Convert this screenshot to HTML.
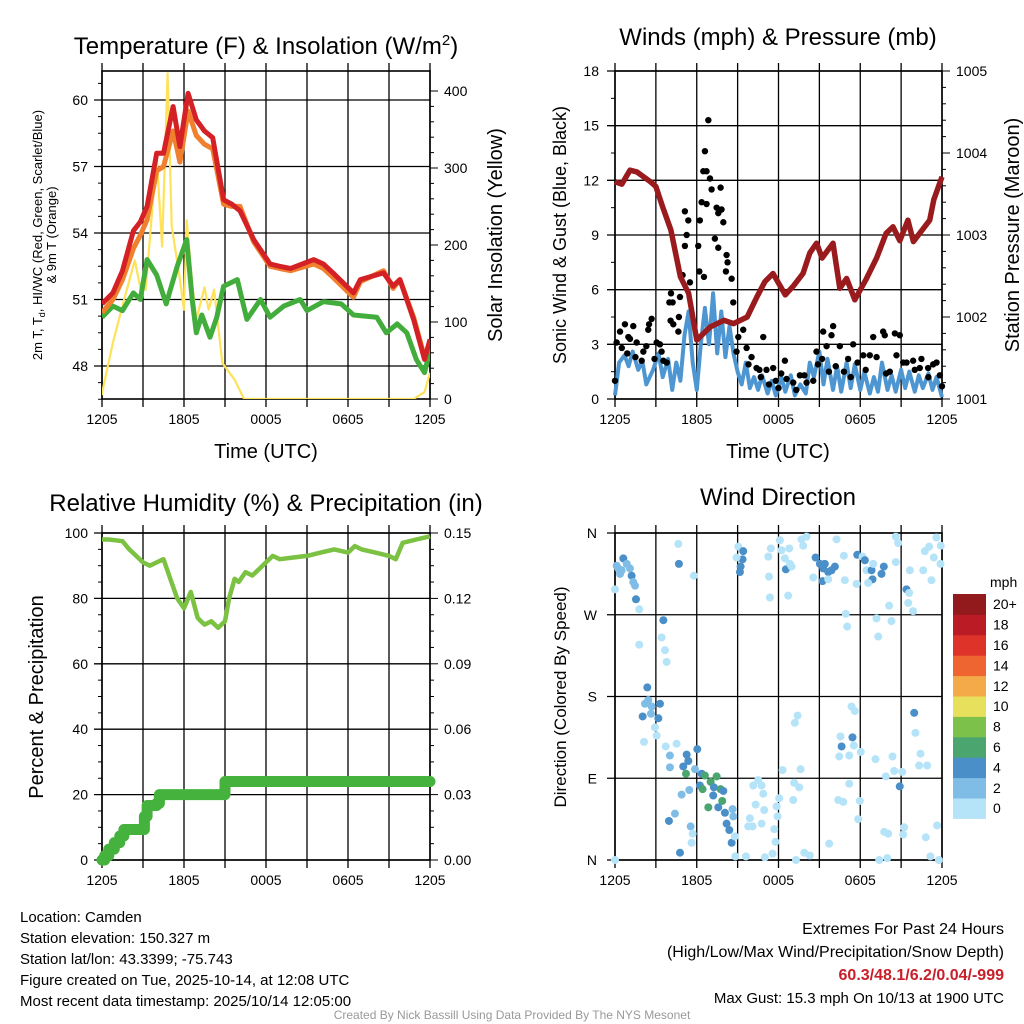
<!DOCTYPE html>
<html><head><meta charset="utf-8"><style>
html,body{margin:0;padding:0;background:#fff;}
svg{display:block;font-family:"Liberation Sans",sans-serif;}
</style></head><body>
<svg id="chart" width="1024" height="1024" viewBox="0 0 1024 1024" xmlns="http://www.w3.org/2000/svg">
<g id="g"></g>
<text x="266" y="54" font-size="24" text-anchor="middle">Temperature (F) &amp; Insolation (W/m<tspan dy="-9" font-size="15">2</tspan><tspan dy="9">)</tspan></text>
<text x="778" y="45" font-size="24" text-anchor="middle">Winds (mph) &amp; Pressure (mb)</text>
<text x="266" y="511" font-size="24" text-anchor="middle">Relative Humidity (%) &amp; Precipitation (in)</text>
<text x="778" y="505" font-size="24" text-anchor="middle">Wind Direction</text>
<text x="266" y="458" font-size="20" text-anchor="middle">Time (UTC)</text>
<text x="778" y="458" font-size="20" text-anchor="middle">Time (UTC)</text>
<text transform="translate(42,235) rotate(-90)" font-size="13" text-anchor="middle">2m T, T<tspan font-size="9" dy="3">d</tspan><tspan dy="-3">, HI/WC (Red, Green, Scarlet/Blue)</tspan></text>
<text transform="translate(56,235) rotate(-90)" font-size="13" text-anchor="middle">&amp; 9m T (Orange)</text>
<text transform="translate(502,235) rotate(-90)" font-size="20" text-anchor="middle">Solar Insolation (Yellow)</text>
<text transform="translate(566,235) rotate(-90)" font-size="18" text-anchor="middle">Sonic Wind &amp; Gust (Blue, Black)</text>
<text transform="translate(1019,235) rotate(-90)" font-size="20" text-anchor="middle">Station Pressure (Maroon)</text>
<text transform="translate(43,697) rotate(-90)" font-size="20" text-anchor="middle">Percent &amp; Precipitation</text>
<text transform="translate(566,697) rotate(-90)" font-size="17" text-anchor="middle">Direction (Colored By Speed)</text>
<g font-size="15">
<text x="20" y="922">Location: Camden</text>
<text x="20" y="943">Station elevation: 150.327 m</text>
<text x="20" y="964">Station lat/lon: 43.3399; -75.743</text>
<text x="20" y="985">Figure created on Tue, 2025-10-14, at 12:08 UTC</text>
<text x="20" y="1006">Most recent data timestamp: 2025/10/14 12:05:00</text>
</g>
<g font-size="16" text-anchor="end">
<text x="1004" y="934">Extremes For Past 24 Hours</text>
<text x="1004" y="957">(High/Low/Max Wind/Precipitation/Snow Depth)</text>
<text x="1004" y="980" fill="#c8202a" font-weight="bold">60.3/48.1/6.2/0.04/-999</text>
<text x="1004" y="1003" font-size="15">Max Gust: 15.3 mph On 10/13 at 1900 UTC</text>
</g>
<text x="512" y="1019" font-size="12" fill="#999" text-anchor="middle">Created By Nick Bassill Using Data Provided By The NYS Mesonet</text>
</svg>
<script>
// ---- Panel 1 data ----
const tempHours=[0,0.8,1.5,2.3,2.8,3.3,4.0,4.5,5.2,5.7,6.3,6.9,7.5,8.1,8.9,9.5,10.1,11.1,12.3,13.0,13.8,15.5,16.2,16.9,18.4,18.9,20.6,21.3,21.8,22.8,23.6,24];
const tempRed=[50.8,51.3,52.3,54.1,54.5,55.2,57.6,57.6,59.7,57.9,60.3,59.1,58.6,58.3,55.5,55.3,55.0,53.7,52.6,52.5,52.4,52.8,52.6,52.2,51.3,51.9,52.2,51.6,51.9,50.1,48.3,49.2];
const tempOrange=[50.4,51.0,51.9,53.3,53.9,54.6,56.8,57.0,58.6,57.2,59.5,58.4,58.0,57.8,55.3,55.2,55.2,53.6,52.5,52.4,52.3,52.6,52.4,52.0,51.1,51.8,52.3,51.5,51.9,50.2,48.4,49.0];
const dewHours=[0,0.8,1.5,2.3,2.8,3.3,4.0,4.7,5.5,6.2,6.6,6.9,7.3,7.9,8.4,8.9,9.9,10.6,11.6,12.3,13.3,14.5,15.0,16.2,17.5,18.4,20.1,20.8,21.6,22.3,23.0,23.6,24];
const dewGreen=[50.2,50.7,50.5,51.3,51.0,52.8,52.1,50.8,52.5,53.7,51.0,49.5,50.3,49.3,50.2,51.6,51.9,50.1,51.0,50.2,50.7,51.0,50.5,50.9,50.8,50.3,50.2,49.5,49.9,49.5,48.3,47.7,48.7];
const solarHours=[0,0.05,0.8,1.6,2.4,2.8,3.2,3.6,4.0,4.4,4.8,5.1,5.6,6.0,6.2,6.6,6.9,7.5,7.8,8.2,8.8,9.7,10.4,22.8,23.6,24];
const solarVals=[5,12,73,128,180,145,142,230,315,198,423,224,168,116,232,150,103,145,116,142,47,25,0,0,9,34];
const tempTicks=[48,51,54,57,60];
const solarTicks=[0,100,200,300,400];
const timeLabels=["1205","1805","0005","0605","1205"];
// ---- Panel 2 data ----
const presHours=[0,0.5,1.1,1.6,2.6,3.0,3.5,4.1,4.8,5.4,6.0,7.0,8.0,8.7,9.7,10.4,11.0,11.6,12.5,13.1,13.8,14.3,14.8,15.2,16.0,16.5,17.0,17.6,18.4,19.2,19.9,20.4,20.9,21.5,21.9,23.1,23.4,24];
const presVals=[1003.65,1003.62,1003.79,1003.77,1003.65,1003.59,1003.34,1003.06,1002.49,1002.29,1001.72,1001.88,1001.96,1001.92,1002.0,1002.24,1002.43,1002.53,1002.27,1002.38,1002.53,1002.78,1002.9,1002.72,1002.9,1002.35,1002.47,1002.21,1002.45,1002.72,1003.02,1003.1,1002.93,1003.18,1002.92,1003.18,1003.43,1003.71];
const windHours=[0,0.3,0.7,1.0,1.3,1.7,2.0,2.3,2.8,3.2,3.5,3.9,4.2,4.5,4.8,5.1,5.4,5.7,6.0,6.3,6.6,6.9,7.2,7.5,7.8,8.1,8.4,8.7,9.0,9.3,9.6,9.9,10.2,10.5,10.8,11.2,11.5,11.8,12.2,12.5,12.9,13.2,13.6,14.0,14.3,14.6,15.0,15.3,15.6,16.0,16.3,16.6,17.0,17.3,17.6,18.0,18.3,18.7,19.0,19.3,19.6,20.0,20.3,20.6,21.0,21.3,21.6,22.0,22.3,22.6,23.0,23.3,23.6,24];
const windVals=[0.2,2.0,2.4,1.8,2.6,1.6,2.1,0.8,1.6,2.5,1.2,2.2,0.5,2.0,1.0,3.5,4.8,2.0,0.5,3.0,5.0,3.0,5.8,2.5,4.8,2.3,4.0,2.5,1.5,0.8,2.0,0.6,1.2,0.5,1.3,0.3,1.0,0.2,1.2,0.4,1.3,0.2,0.8,0.3,2.0,1.2,2.6,0.8,2.2,0.5,1.8,0.4,2.0,0.6,1.9,0.5,1.5,0.3,1.2,0.4,2.0,0.5,1.3,0.4,1.6,0.6,1.5,0.4,1.3,0.6,1.4,0.5,1.2,0.1];
const gustHours=[6.85,6.6,6.48,6.72,6.97,7.09,6.36,6.72,6.23,6.11,5.13,5.38,5.26,5.13,7.46,7.82,7.58,7.75,7.95,7.33,7.58,8.19,8.26,8.14,8.56,8.68,4.96,5.5,6.19,6.53,4.11,3.99,4.23,4.77,4.69,4.08,4.28,4.65,2.69,2.44,0.73,1.34,0.37,0.98,1.59,0.12,2.08,3.06,3.42,3.55,1.96,0,9.05,9.41,10.88,8.92,9.66,10.02,10.39,11.12,11.61,12.47,12.59,13.08,13.57,14.06,14.55,14.79,15.28,16.01,15.89,15.53,16.5,17.48,17.11,18.22,18.7,18.95,19.68,19.8,20.54,20.9,20.66,21.15,21.88,22.49,23.35,23.84,24,20.17,22.37,22.98,11.8,12.0,12.2,10.7,11.3,13.3,13.9,9.8,10.6,0.5,1.1,1.5,2.3,2.9,3.3,3.8,0.9,2.5,15.2,16.2,16.8,17.8,18.4,19.2,19.9,21.4,22.0,23.0,23.6,17.3,15.7,14.9];
const gustVals=[15.3,13.6,12.5,12.5,12.1,11.5,10.8,10.7,9.8,8.4,10.3,9.8,9.0,8.4,10.5,10.4,10.2,11.6,9.7,8.8,8.3,7.9,7.5,7.0,6.6,5.3,6.8,6.4,7.0,6.7,5.8,5.3,5.3,5.6,4.5,4.3,4.1,3.7,4.4,3.8,4.1,4.0,3.7,3.4,3.1,3.1,2.6,3.1,2.6,2.1,2.1,1.0,3.4,3.8,3.4,2.6,2.8,2.3,1.7,1.6,1.7,2.1,1.1,0.9,1.3,0.9,1.0,2.6,3.7,4.0,3.5,2.9,2.9,3.0,2.2,2.4,2.4,3.4,3.7,3.5,3.6,3.5,2.4,2.0,2.1,2.2,1.9,1.3,0.7,1.5,1.7,1.7,1.0,0.6,1.4,1.2,0.8,0.5,1.3,1.9,1.6,2.8,3.3,2.3,2.9,2.2,3.0,2.0,2.5,4.1,2.2,1.8,1.5,2.0,1.6,2.3,1.4,2.0,1.6,1.2,2.0,1.2,1.5,1.9];
const windTicks=[0,3,6,9,12,15,18];
const presTicks=[1001,1002,1003,1004,1005];
// ---- Panel 3 data ----
const rhHours=[0,0.5,1.5,2.0,2.5,3.0,3.5,4.0,4.5,5.0,5.5,6.0,6.5,7.0,7.5,8.0,8.5,9.0,9.3,9.7,10.0,10.5,11.0,11.5,12.0,12.5,13.0,14.0,15.0,16.0,17.0,18.0,18.5,19.0,20.0,21.0,21.5,22.0,23.0,24];
const rhVals=[98,98,97.5,95,93,91,90,91,92,86,80,77,82,74,72,73,71,73,80,86,85,88,87,89,91,93,92,92.5,93,94,95,94,96,95,94,93,92,97,98,99];
const precipHours=[0,0.2,0.5,0.9,1.3,1.6,2.8,3.1,3.3,4.0,4.2,8.8,9.0,24];
const precipVals=[0,0.002,0.005,0.008,0.011,0.014,0.014,0.02,0.025,0.026,0.03,0.03,0.036,0.036];
const rhTicks=[0,20,40,60,80,100];
const precipTicks=["0.00","0.03","0.06","0.09","0.12","0.15"];
// ---- Panel 4 data ----
const dirHours=[0.12,0.37,0.61,0.86,1.10,1.22,1.34,1.47,0,1.54,1.78,0.24,0.49,4.65,4.69,5.79,3.55,3.42,3.67,3.79,1.78,2.37,2.44,2.20,2.69,3.30,2.03,2.64,3.18,2.93,3.06,2.13,3.72,4.52,4.03,5.26,5.38,5.01,4.03,5.21,6.04,5.87,6.36,6.60,7.46,7.02,6.23,6.43,7.26,7.75,7.95,7.21,7.87,6.85,7.58,8.07,8.63,8.68,8.19,8.39,8.56,5.45,4.89,4.40,3.96,5.55,5.70,5.62,4.77,8.80,0,9.05,9.41,9.36,9.22,9.17,8.92,11.25,11.44,11.30,11.37,12.10,12.22,12.79,12.47,12.54,12.84,12.96,12.71,13.69,13.81,14.06,14.55,14.72,15.04,15.28,15.40,15.65,16.14,15.89,15.23,15.65,16.26,16.80,16.87,16.94,17.04,17.73,17.78,18.17,18.34,18.46,18.83,18.90,18.58,18.95,19.19,19.32,19.56,19.73,20.12,20.29,20.61,20.61,20.78,21.39,21.59,21.52,21.88,21.64,22.62,22.74,23.06,23.40,23.59,23.91,23.89,23.23,10.15,10.51,10.76,10.88,10.32,10.95,9.90,9.78,10.10,10.76,11.69,11.78,12.05,11.86,11.93,12.30,13.62,13.15,13.52,13.08,13.40,13.20,11.00,11.56,9.61,8.83,13.28,13.89,14.30,15.72,16.38,16.75,17.19,17.97,17.85,17.36,17.60,16.55,17.43,17.53,16.63,16.46,17.19,18.04,19.12,20.37,20.49,19.88,21.08,20.90,21.96,22.05,22.42,22.32,22.91,19.76,20.05,21.15,21.22,22.81,23.64,19.39,19.98,23.15,23.77];
const dirDegrees=[324,315,332,326,321,313,306,302,298,287,276,321,319,348,326,313,264,245,231,218,237,190,176,172,169,172,158,161,156,146,137,130,125,128,115,116,109,103,102,95,122,100,95,93,92,86,82,78,80,78,76,71,65,58,58,52,56,48,40,33,19,77,72,51,43,37,29,19,8,26,0,345,340,331,323,317,333,334,343,312,289,352,341,343,332,320,326,323,291,353,346,356,311,333,326,321,326,317,323,319,307,309,353,335,308,271,257,304,336,334,330,319,319,309,305,326,266,246,315,323,280,263,328,356,349,298,294,283,274,319,319,340,345,333,355,346,326,308,82,88,82,73,61,55,46,37,37,40,34,20,68,59,48,99,100,85,80,66,159,151,3,7,4,4,0,8,5,18,66,64,84,65,45,169,164,136,135,126,125,114,115,119,111,114,98,92,97,81,162,140,117,104,104,31,29,28,36,25,38,0,2,4,0];
const dirSpeeds=[2,2,4,2,2,4,2,2,0,4,0,2,2,0,4,0,4,0,0,0,0,4,2,2,2,4,4,2,4,0,0,0,0,0,2,4,4,4,2,6,4,2,4,6,6,6,4,6,4,6,4,4,6,6,4,4,2,2,4,4,4,2,2,2,4,2,0,0,4,0,0,0,4,4,4,4,0,0,0,0,0,0,0,0,0,4,0,0,0,0,0,0,0,4,4,4,4,4,4,4,4,0,0,0,0,0,0,0,4,0,4,0,4,4,0,0,0,0,4,4,0,0,0,0,0,4,0,0,0,0,0,0,0,0,0,0,0,0,0,0,0,0,0,0,0,0,0,0,0,0,0,0,0,0,0,0,0,0,0,0,0,0,0,0,0,0,0,0,0,0,0,0,0,0,0,0,4,0,4,0,0,0,0,0,0,0,0,4,4,0,0,0,0,0,0,0,0,0,0,0,0,0,0,0,0,0,0,0,0,0,0,0];
const dirTickLabels=["N","E","S","W","N"];
const barLabels=["0","2","4","6","8","10","12","14","16","18","20+"];
const barColors=["#b5e3f8","#80bde6","#4a8fc8","#4aa56f","#7cc24a","#e6e05c","#f5aa4a","#ef6531","#dd3329","#bb1b24","#931a1c"];

const NS="http://www.w3.org/2000/svg";
const G=document.getElementById('g');
function mk(tag,attrs,parent){const e=document.createElementNS(NS,tag);for(const k in attrs)e.setAttribute(k,attrs[k]);(parent||G).appendChild(e);return e;}
function txt(s,x,y,size,anchor,parent){const t=mk('text',{x:x,y:y,'font-size':size,'text-anchor':anchor||'middle'},parent);t.textContent=s;return t;}
function lin(d0,d1,r0,r1){return v=>r0+(v-d0)*(r1-r0)/(d1-d0);}
function path(xs,ys,fx,fy){return xs.map((h,i)=>(i?'L':'M')+fx(h).toFixed(1)+','+fy(ys[i]).toFixed(1)).join('');}

function frame(name,L,T,R,B){
  const g=mk('g',{});
  
  
  const fx=lin(0,24,L,R);
  for(let h=0;h<=24;h+=3){
    const gl=mk('line',{x1:fx(h),x2:fx(h),y1:T-8,y2:B+8,stroke:'#000','stroke-width':1.3},g);
    
    
  }
  for(let i=0;i<timeLabels.length;i++){
    const t=txt(timeLabels[i],fx(i*6),B+25,14,'middle',g);
    
    
  }
  return {g,fx};
}
function hgrid(g,L,R,y,label,lx,anchor,name){
  mk('line',{x1:L-8,x2:R,y1:y,y2:y,stroke:'#000','stroke-width':1.3},g);
  if(label!==null){const t=txt(label,lx,y+5,14,anchor,g);
  
  }
}
function box(g,L,T,R,B){mk('rect',{x:L,y:T,width:R-L,height:B-T,fill:'none',stroke:'#000','stroke-width':1.6},g);}
function rightTicks(g,R,T,B,n){for(let i=0;i<=n;i++){const y=T+(B-T)*i/n;mk('line',{x1:R,x2:R+(i%5==0?8:4),y1:y,y2:y,stroke:'#000','stroke-width':1},g);}}

// Panel 1
(function(){
  const L=102,T=71,R=430,B=399;
  const {g,fx}=frame('temperature-panel',L,T,R,B);
  const fy=lin(48,60,366,100);
  const fs=lin(0,400,399,91);
  tempTicks.forEach(v=>hgrid(g,L,R,fy(v),String(v),L-14,'end','temp-tick-label'));
  solarTicks.forEach(v=>{const y=fs(v);mk('line',{x1:R,x2:R+8,y1:y,y2:y,stroke:'#000'},g);
    const t=txt(String(v),R+14,y+5,14,'start',g);
    
    });
  for(let v=20;v<420;v+=20){if(v%100)mk('line',{x1:R,x2:R+4,y1:fs(v),y2:fs(v),stroke:'#000'},g);}
  for(let v=46.5;v<61.5;v+=0.75){mk('line',{x1:L-4,x2:L,y1:fy(v),y2:fy(v),stroke:'#000'},g);}
  box(g,L,T,R,B);
  const cp=mk('clipPath',{id:'c1'},g);mk('rect',{x:L,y:T-2,width:R-L,height:B-T+2},cp);
  const s=mk('g',{'clip-path':'url(#c1)'},g);
  const y1=mk('path',{d:path(solarHours,solarVals,fx,fs),fill:'none',stroke:'#fde25a','stroke-width':2.2,'stroke-linejoin':'round'},s);
  
  
  const gr=mk('path',{d:path(dewHours,dewGreen,fx,fy),fill:'none',stroke:'#42ad3c','stroke-width':5,'stroke-linejoin':'round'},s);
  
  
  const o=mk('path',{d:path(tempHours,tempOrange,fx,fy),fill:'none',stroke:'#f0802d','stroke-width':5,'stroke-linejoin':'round'},s);
  
  
  const r=mk('path',{d:path(tempHours,tempRed,fx,fy),fill:'none',stroke:'#d42126','stroke-width':5,'stroke-linejoin':'round'},s);
  
  
})();

// Panel 2
(function(){
  const L=615,T=71,R=942,B=399;
  const {g,fx}=frame('winds-panel',L,T,R,B);
  const fy=lin(0,18,399,71);
  const fp=lin(1001,1005,399,71);
  windTicks.forEach(v=>hgrid(g,L,R,fy(v),String(v),L-16,'end','wind-tick-label'));
  presTicks.forEach(v=>{const t=txt(String(v),R+14,fp(v)+5,14,'start',g);
    
    });
  rightTicks(g,R,T,B,20);
  for(let v=1.5;v<18;v+=3)mk('line',{x1:L-4,x2:L,y1:fy(v),y2:fy(v),stroke:'#000'},g);
  box(g,L,T,R,B);
  const cp=mk('clipPath',{id:'c2'},g);mk('rect',{x:L-4,y:T,width:R-L+8,height:B-T+4},cp);
  const s=mk('g',{'clip-path':'url(#c2)'},g);
  const w=mk('path',{d:path(windHours,windVals,fx,fy),fill:'none',stroke:'#4e96d1','stroke-width':4,'stroke-linejoin':'round'},s);
  
  
  gustHours.forEach((h,i)=>{const c=mk('circle',{cx:fx(h),cy:fy(gustVals[i]),r:3.2,fill:'#000'},s);
    
    });
  const p=mk('path',{d:path(presHours,presVals,fx,fp),fill:'none',stroke:'#991b1e','stroke-width':5.5,'stroke-linejoin':'round'},s);
  
  
})();

// Panel 3
(function(){
  const L=102,T=533,R=430,B=860;
  const {g,fx}=frame('humidity-panel',L,T,R,B);
  const fy=lin(0,100,860,533);
  const fp=lin(0,0.15,860,533);
  rhTicks.forEach(v=>hgrid(g,L,R,fy(v),String(v),L-14,'end','rh-tick-label'));
  precipTicks.forEach((s,i)=>{const y=fy(i*20);mk('line',{x1:R,x2:R+8,y1:y,y2:y,stroke:'#000'},g);
    const t=txt(s,R+14,y+5,14,'start',g);
    
    });
  for(let v=5;v<100;v+=5){if(v%20){mk('line',{x1:R,x2:R+4,y1:fy(v),y2:fy(v),stroke:'#000'},g);mk('line',{x1:L-4,x2:L,y1:fy(v),y2:fy(v),stroke:'#000'},g);}}
  box(g,L,T,R,B);
  const rh=mk('path',{d:path(rhHours,rhVals,fx,fy),fill:'none',stroke:'#7cc242','stroke-width':4.5,'stroke-linejoin':'round'},g);
  
  
  let d='';precipHours.forEach((h,i)=>{d+=(i?'L'+fx(h).toFixed(1)+','+fp(precipVals[i-1]).toFixed(1):'M'+fx(h).toFixed(1)+','+fp(precipVals[0]).toFixed(1))+'L'+fx(h).toFixed(1)+','+fp(precipVals[i]).toFixed(1);});
  const pr=mk('path',{d:d,fill:'none',stroke:'#45b23e','stroke-width':11,'stroke-linejoin':'round','stroke-linecap':'round'},g);
  
  
})();

// Panel 4
(function(){
  const L=615,T=533,R=942,B=860;
  const {g,fx}=frame('wind-direction-panel',L,T,R,B);
  const fy=lin(0,360,860,533);
  dirTickLabels.forEach((s,i)=>hgrid(g,L,R,fy(i*90),s,L-18,'end','direction-tick-label'));
  box(g,L,T,R,B);
  dirHours.forEach((h,i)=>{const sp=(dirSpeeds[i]===undefined)?0:dirSpeeds[i];
    const c=mk('circle',{cx:fx(h),cy:fy(dirDegrees[i]),r:4,fill:barColors[Math.min(10,Math.round(sp/2))]},g);
    
    });
  const lg=mk('g',{});
  
  
  const top=594,h=20.4;
  txt('mph',990,587,14,'start',lg);
  barColors.forEach((c,i)=>{const y=top+(10-i)*h;mk('rect',{x:953,y:y,width:33,height:h+0.5,fill:c},lg);
    const t=txt(barLabels[i],993,y+h/2+5,14,'start',lg);
    
    });
})();
</script>
</body></html>
